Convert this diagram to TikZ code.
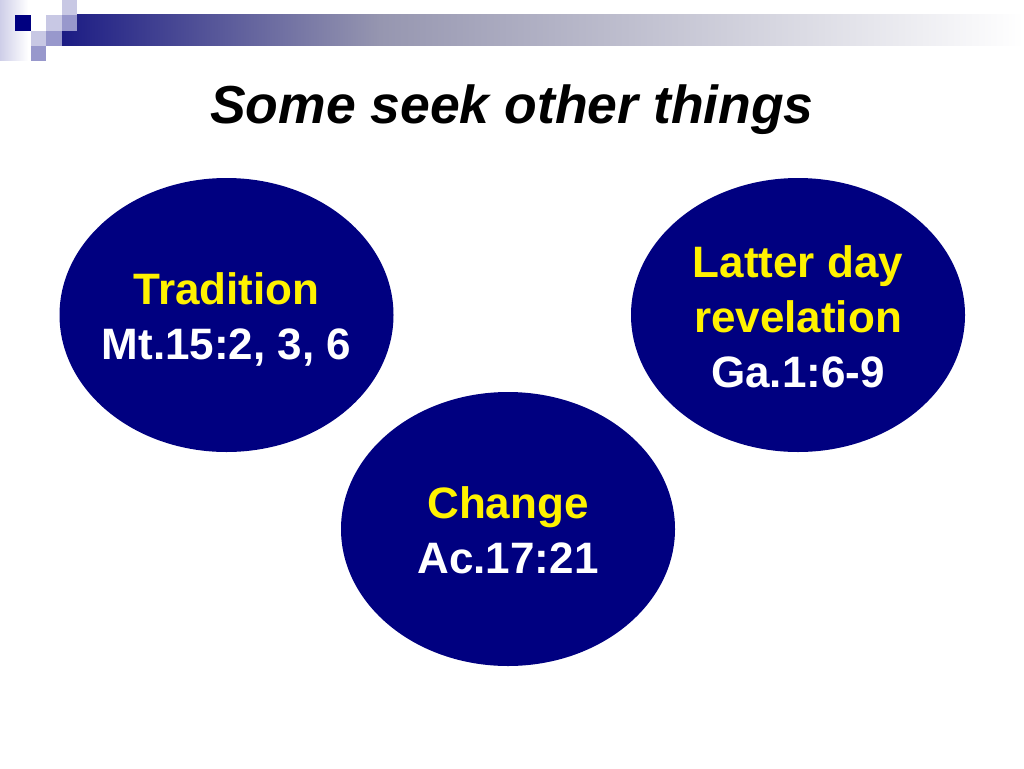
\documentclass[tikz,border=0pt]{standalone}
\usepackage{fontspec}
\setmainfont{Liberation Sans}
\usetikzlibrary{shapes.geometric}
\definecolor{navy}{RGB}{0,0,128}
\definecolor{barnavy}{RGB}{28,28,132}
\definecolor{barmid}{RGB}{150,150,176}
\definecolor{sqlight}{RGB}{200,200,228}
\definecolor{sqmed}{RGB}{152,152,204}
\definecolor{striplav}{RGB}{206,206,232}
\newcommand{\topstrut}{\rule{0pt}{43pt}}
\newcommand{\botstrut}{\rule[-9pt]{0pt}{9pt}}
\tikzset{
  oval/.style={ellipse, fill=navy, draw=none, minimum width=334pt, minimum height=274pt, inner sep=0pt},
  ovaltext/.style={inner sep=0pt, align=center, font=\fontsize{44}{55}\selectfont\bfseries, text=white},
  titletext/.style={anchor=base, font=\fontsize{53.5}{64}\selectfont\bfseries\itshape, text=black, inner sep=0pt}
}
\begin{document}
\begin{tikzpicture}[x=1pt, y=-1pt]
\useasboundingbox (0,0) rectangle (1024,768);
\fill[white] (0,0) rectangle (1024,768);
% top-left decoration
\shade[left color=striplav, right color=white] (0,0) rectangle (28,60);
\shade[left color=barnavy, right color=barmid] (62,15) rectangle (380,46);
\shade[left color=barmid, right color=white] (379.5,15) rectangle (1024,46);
\fill[navy] (15,15) rectangle (31,31);
\fill[sqlight] (46,15) rectangle (62,31);
\fill[sqmed] (62,15) rectangle (77,31);
\fill[sqlight] (62,0) rectangle (77,15);
\fill[sqlight] (31,31) rectangle (46,46);
\fill[sqmed] (46,31) rectangle (62,46);
\fill[sqmed] (31,46) rectangle (46,61);
% title
\node[titletext] (title) at (512,123) {Some seek other things};
% ovals
\node[oval] (tradition) at (226.5,315) {};
\node[oval] (latter) at (798,315) {};
\node[oval] (change) at (508,529) {};
\node[ovaltext] (traditiontext) at (tradition.center) {\topstrut\textcolor{yellow}{Tradition}\\Mt.15:2, 3, 6\botstrut};
\node[ovaltext] (lattertext) at (latter.center) {\topstrut\textcolor{yellow}{Latter day}\\\textcolor{yellow}{revelation}\\Ga.1:6-9\botstrut};
\node[ovaltext] (changetext) at (change.center) {\topstrut\textcolor{yellow}{Change}\\Ac.17:21\botstrut};
\end{tikzpicture}
\end{document}
